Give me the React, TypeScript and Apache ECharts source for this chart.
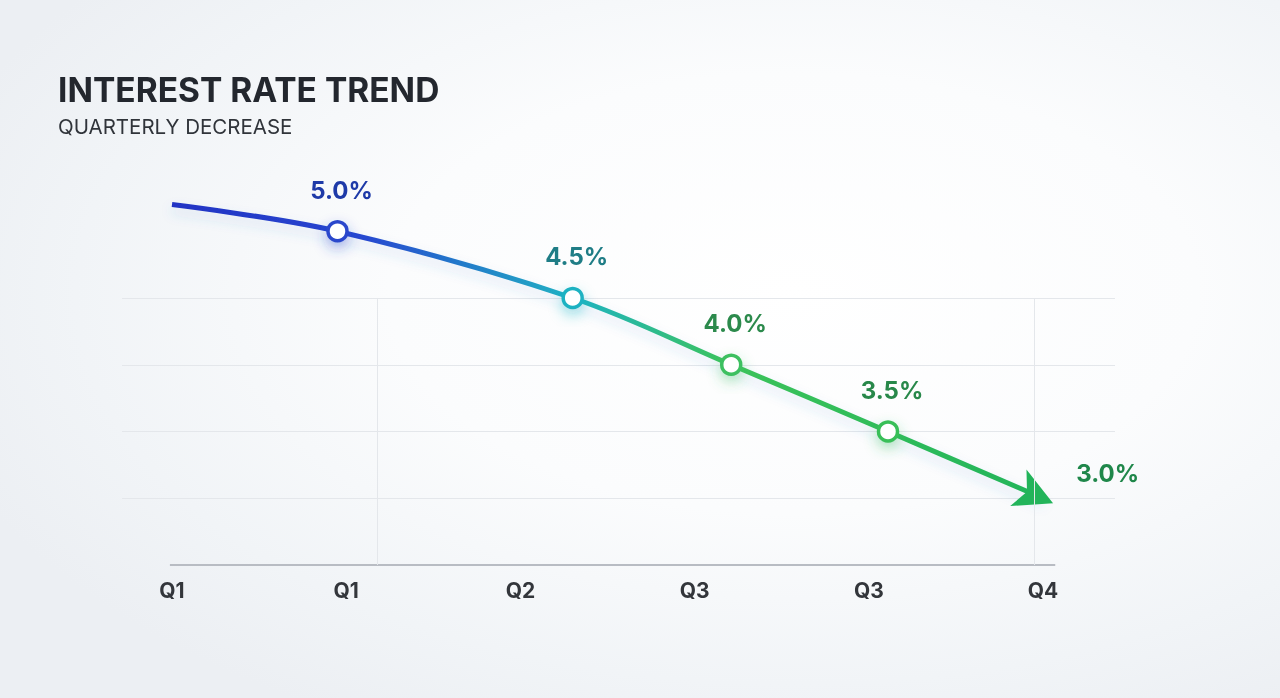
import React, { useEffect, useRef } from "react";
import * as echarts from "echarts";

// Quarter tick labels along the bottom axis
const quarterLabels = ["Q1", "Q1", "Q2", "Q3", "Q3", "Q4"];
const quarterTicks = [0, 1, 2, 3, 4, 5];

// Rate curve: x position along the quarter axis, rate in percent
const rateX = [0, 0.95, 2.3, 3.21, 4.11, 5.0];
const rateY = [5.2, 5.0, 4.5, 4.0, 3.5, 3.0];
const rateLabels = ["", "5.0%", "4.5%", "4.0%", "3.5%", "3.0%"];

// Marker / label colours per point
const pointColors = ["#2335c6", "#2a46cc", "#1fb2c2", "#3cc060", "#38bf58", "#22b45a"];
const labelColors = ["#1e3aa8", "#1e3aa8", "#1f7d86", "#2c8a4c", "#28884a", "#1f874a"];

export default function App() {
  const ref = useRef<HTMLDivElement>(null);

  useEffect(() => {
    if (!ref.current) return;
    const chart = echarts.init(ref.current, undefined, { renderer: "svg" });

    const data = rateX.map((x, i) => {
      const isStart = i === 0;
      const isEnd = i === rateX.length - 1;
      return {
        value: [x, rateY[i]],
        symbol: isStart ? "none" : isEnd ? "arrow" : "circle",
        symbolSize: isEnd ? [30, 38] : 19,
        symbolRotate: isEnd ? -114 : 0,
        symbolOffset: isEnd ? [10, 5] : [0, 0],
        itemStyle: isEnd
          ? { color: pointColors[i], borderWidth: 0, shadowBlur: 0 }
          : {
              color: "#ffffff",
              borderColor: pointColors[i],
              borderWidth: 3.5,
              shadowBlur: 14,
              shadowColor: pointColors[i] + "66",
              shadowOffsetY: 6,
            },
        label: {
          show: !isStart,
          formatter: rateLabels[i],
          position: isEnd ? "right" : "top",
          distance: isEnd ? 10 : 18,
          offset: isEnd ? [5, -22] : [4, 0],
          color: labelColors[i],
          fontSize: 24,
          fontWeight: "bold",
          fontFamily: "Inter",
        },
      };
    });

    chart.setOption({
      animation: false,
      backgroundColor: "transparent",
      title: [
        {
          text: "INTEREST RATE TREND",
          left: 58,
          top: 73,
          padding: 0,
          textStyle: { fontFamily: "Inter", fontSize: 33.5, fontWeight: "bold", color: "#23272e" },
        },
        {
          text: "QUARTERLY DECREASE",
          left: 58,
          top: 116,
          padding: 0,
          textStyle: { fontFamily: "Inter", fontSize: 20.5, fontWeight: "normal", color: "#30343a" },
        },
      ],
      grid: { left: 122, right: 165, top: 298, bottom: 133 },
      xAxis: {
        type: "value",
        min: -0.287,
        max: 5.413,
        axisLine: { show: false },
        axisTick: { show: false },
        splitLine: { show: false },
        axisLabel: {
          customValues: quarterTicks,
          formatter: (v: number) => quarterLabels[Math.round(v)] ?? "",
          color: "#33363b",
          fontSize: 21,
          fontWeight: "bold",
          fontFamily: "Inter",
          margin: 15,
        },
      },
      yAxis: {
        type: "value",
        min: 2.5,
        max: 4.5,
        interval: 0.5,
        axisLine: { show: false },
        axisTick: { show: false },
        axisLabel: { show: false },
        splitLine: { show: true, showMinLine: false, lineStyle: { color: "#e4e7eb", width: 1 } },
      },
      series: [
        {
          type: "line",
          data,
          smooth: 0.35,
          clip: false,
          lineStyle: {
            width: 5,
            color: new echarts.graphic.LinearGradient(0, 0, 1, 0, [
              { offset: 0, color: "#2233c4" },
              { offset: 0.22, color: "#2748d0" },
              { offset: 0.46, color: "#1fb3c3" },
              { offset: 0.64, color: "#3cc35a" },
              { offset: 1, color: "#22b45a" },
            ]),
            shadowBlur: 12,
            shadowColor: "rgba(60,120,200,0.18)",
            shadowOffsetY: 6,
          },
          markLine: {
            silent: true,
            symbol: "none",
            label: { show: false },
            data: [
              [
                { coord: [-0.012, 2.5], lineStyle: { color: "#b8bcc3", width: 2, type: "solid" } },
                { coord: [5.07, 2.5] },
              ],
              { xAxis: 1.18, lineStyle: { color: "#e4e7eb", width: 1, type: "solid" } },
              { xAxis: 4.95, lineStyle: { color: "#e4e7eb", width: 1, type: "solid" } },
            ],
          },
        },
      ],
    });

    return () => chart.dispose();
  }, []);

  return (
    <div
      style={{
        position: "fixed",
        left: 0,
        top: 0,
        width: 1280,
        height: 698,
        background:
          "radial-gradient(ellipse 70% 70% at 62% 42%, #ffffff 0%, #fbfcfd 45%, #f1f4f7 80%, #eceff3 100%)",
      }}
    >
      <div ref={ref} style={{ width: 1280, height: 698 }} />
    </div>
  );
}
